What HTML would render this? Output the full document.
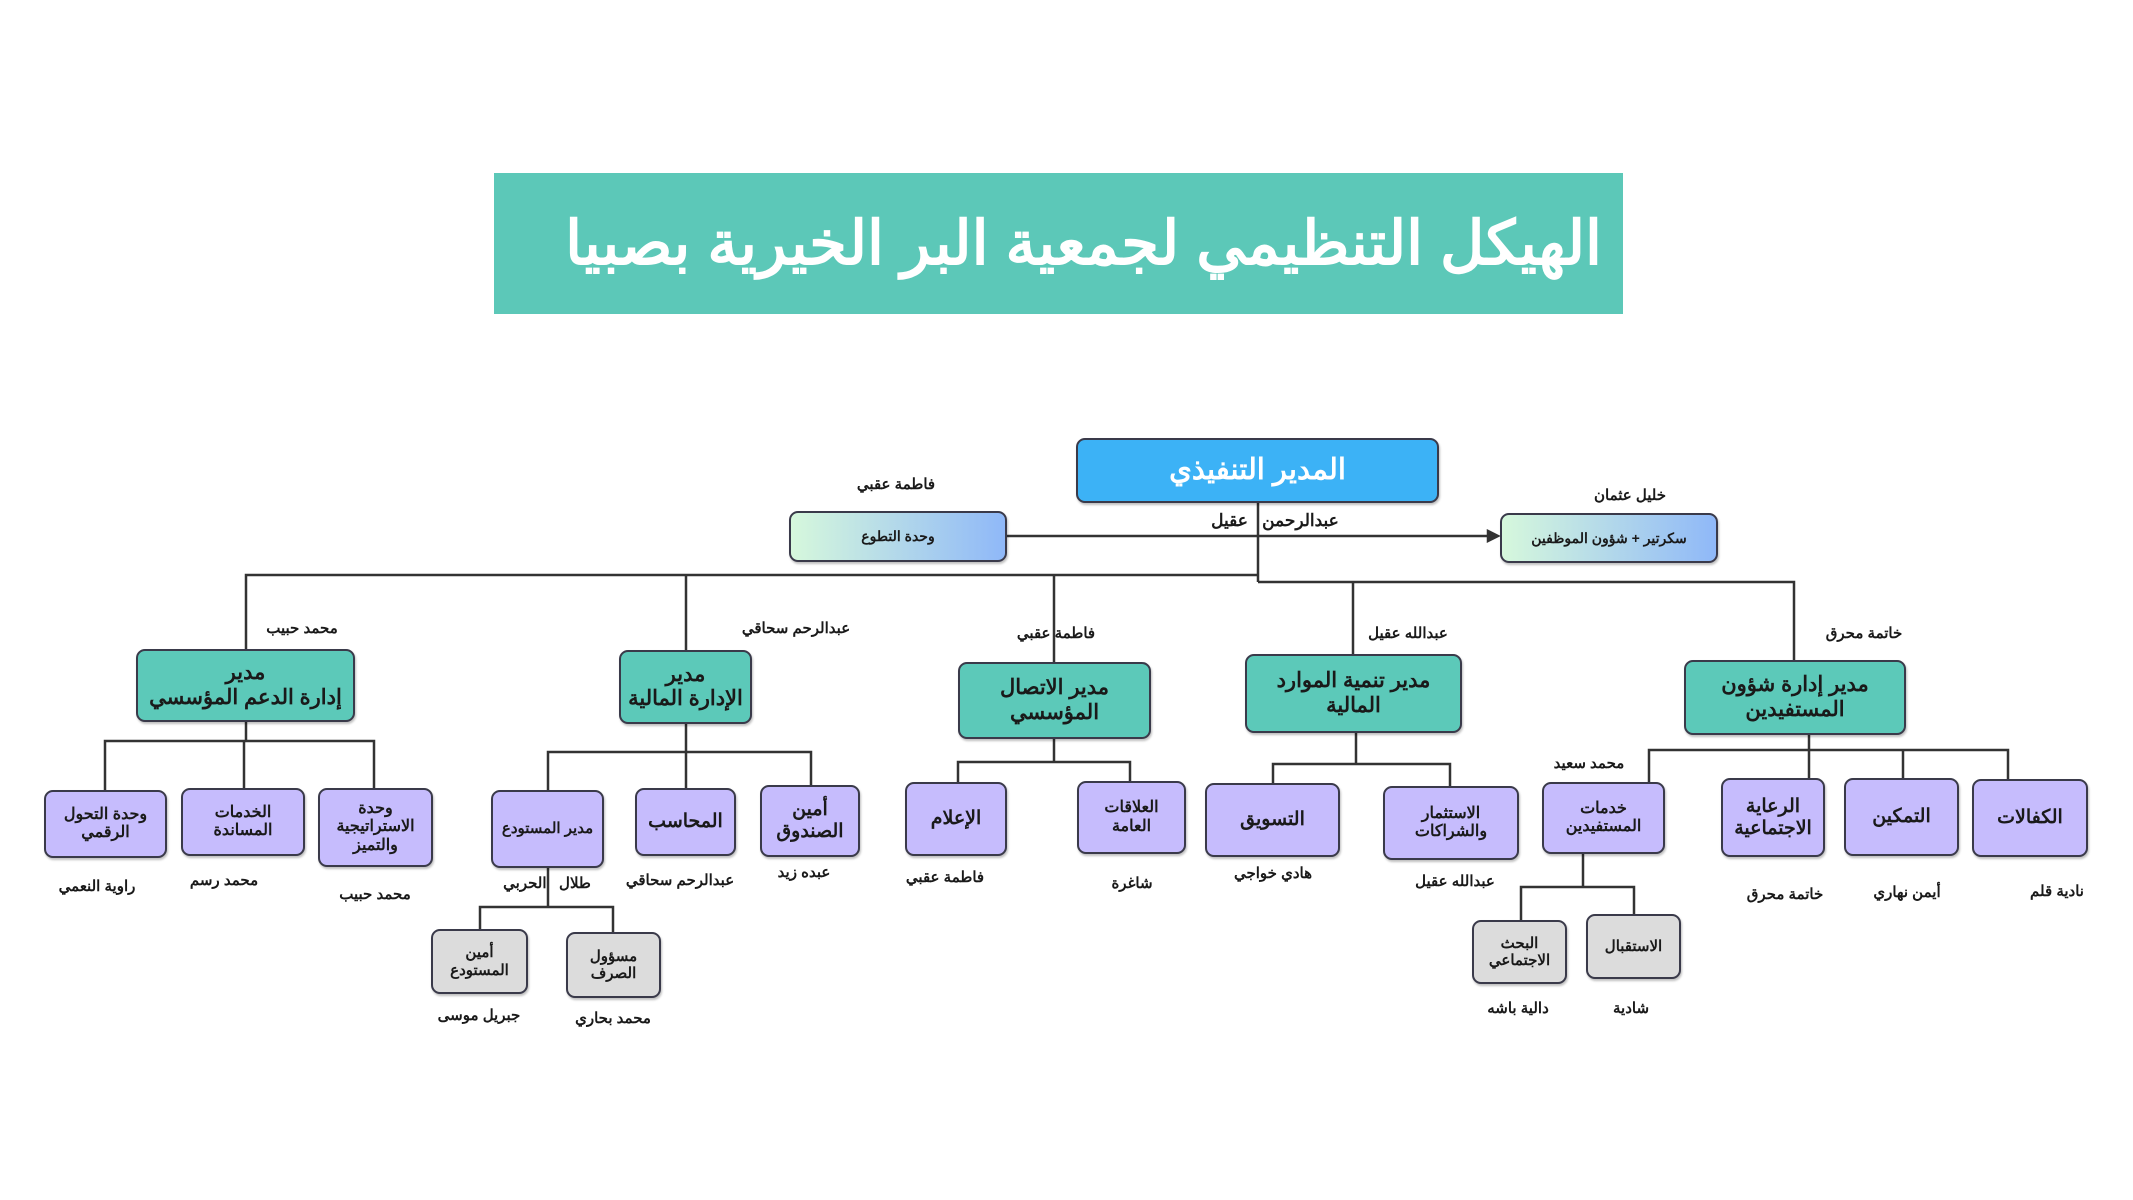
<!DOCTYPE html>
<html lang="ar"><head><meta charset="utf-8">
<style>
html,body{margin:0;padding:0;background:#fff;}
body{width:2133px;height:1200px;position:relative;overflow:hidden;font-family:"Liberation Sans","Noto Sans CJK SC",sans-serif;}
.b{position:absolute;box-sizing:border-box;display:flex;align-items:center;justify-content:center;text-align:center;border:2.5px solid #3a3a4a;border-radius:9px;font-weight:bold;color:#1a1a1a;direction:rtl;line-height:1.15;box-shadow:1px 2px 2px rgba(0,0,0,.25);}
.t{background:#5cc9b9;font-size:21px;}
.p{background:#c6bcfd;font-size:16px;}
.p.big{font-size:19px;}
.g{background:#dcdcdc;font-size:15px;}
.l{position:absolute;font-size:15px;font-weight:bold;color:#1a1a1a;direction:rtl;white-space:nowrap;transform:translate(-50%,-50%);}
svg{position:absolute;left:0;top:0;}
</style></head><body>
<div style="position:absolute;left:494px;top:173px;width:1129px;height:141px;background:#5cc8b8;"></div>
<div style="position:absolute;left:520px;top:173px;width:1082px;height:141px;display:flex;align-items:center;justify-content:flex-start;color:#fff;font-weight:bold;font-size:61px;direction:rtl;">الهيكل التنظيمي لجمعية البر الخيرية بصبيا</div>

<svg width="2133" height="1200" fill="none" stroke="#333" stroke-width="2.5">
<path d="M1258 503V582"/>
<path d="M1007 536H1496"/><path d="M1488 531L1498 536L1488 541Z" fill="#333"/>
<path d="M246 649V575H1258"/>
<path d="M686 575V650"/><path d="M1054 575V662"/>
<path d="M1258 582H1794V660"/><path d="M1353 582V654"/>
<path d="M246 722V741"/><path d="M105 790V741H374V788"/><path d="M244 741V788"/>
<path d="M686 724V752"/><path d="M548 790V752H811V785"/><path d="M686 752V788"/>
<path d="M548 868V907"/><path d="M480 929V907H613V932"/>
<path d="M1054 739V762"/><path d="M958 782V762H1130V781"/>
<path d="M1356 733V764"/><path d="M1273 783V764H1450V786"/>
<path d="M1809 735V750"/><path d="M1649 782V750H2008V779"/><path d="M1809 750V778"/><path d="M1903 750V778"/>
<path d="M1583 854V887"/><path d="M1521 920V887H1634V914"/>
</svg>

<div class="b" style="left:1076px;top:438px;width:363px;height:65px;background:#3cb2f6;color:#fff;font-size:29px;">المدير التنفيذي</div>
<div class="l" style="left:1275px;top:521px;font-size:17px;">عبدالرحمن&nbsp;&nbsp;&nbsp;عقيل</div>
<div class="b" style="left:789px;top:511px;width:218px;height:51px;background:linear-gradient(90deg,#d6f8dc,#8fb8f8);font-size:14px;">وحدة التطوع</div>
<div class="l" style="left:896px;top:484px;">فاطمة عقبي</div>
<div class="b" style="left:1500px;top:513px;width:218px;height:50px;background:linear-gradient(90deg,#d6f8dc,#8fb8f8);font-size:14px;">سكرتير + شؤون الموظفين</div>
<div class="l" style="left:1630px;top:495px;">خليل عثمان</div>

<div class="b t" style="left:136px;top:649px;width:219px;height:73px;">مدير<br>إدارة الدعم المؤسسي</div>
<div class="l" style="left:302px;top:628px;">محمد حبيب</div>
<div class="b t" style="left:619px;top:650px;width:133px;height:74px;">مدير<br>الإدارة المالية</div>
<div class="l" style="left:796px;top:628px;">عبدالرحم سحاقي</div>
<div class="b t" style="left:958px;top:662px;width:193px;height:77px;">مدير الاتصال<br>المؤسسي</div>
<div class="l" style="left:1056px;top:633px;">فاطمة عقبي</div>
<div class="b t" style="left:1245px;top:654px;width:217px;height:79px;">مدير تنمية الموارد<br>المالية</div>
<div class="l" style="left:1408px;top:633px;">عبدالله عقيل</div>
<div class="b t" style="left:1684px;top:660px;width:222px;height:75px;">مدير إدارة شؤون<br>المستفيدين</div>
<div class="l" style="left:1864px;top:633px;">خاتمة محرق</div>

<div class="b p" style="left:44px;top:790px;width:123px;height:68px;">وحدة التحول<br>الرقمي</div>
<div class="l" style="left:97px;top:886px;">راوية النعمي</div>
<div class="b p" style="left:181px;top:788px;width:124px;height:68px;">الخدمات<br>المساندة</div>
<div class="l" style="left:224px;top:880px;">محمد رسم</div>
<div class="b p" style="left:318px;top:788px;width:115px;height:79px;">وحدة<br>الاستراتيجية<br>والتميز</div>
<div class="l" style="left:375px;top:894px;">محمد حبيب</div>

<div class="b p" style="left:491px;top:790px;width:113px;height:78px;font-size:15px;">مدير المستودع</div>
<div class="l" style="left:547px;top:883px;">طلال&nbsp;&nbsp;&nbsp;الحربي</div>
<div class="b p big" style="left:635px;top:788px;width:101px;height:68px;">المحاسب</div>
<div class="l" style="left:680px;top:880px;">عبدالرحم سحاقي</div>
<div class="b p big" style="left:760px;top:785px;width:100px;height:72px;">أمين<br>الصندوق</div>
<div class="l" style="left:804px;top:872px;">عبده زيد</div>
<div class="b g" style="left:431px;top:929px;width:97px;height:65px;">أمين<br>المستودع</div>
<div class="l" style="left:479px;top:1015px;">جبريل موسى</div>
<div class="b g" style="left:566px;top:932px;width:95px;height:66px;">مسؤول<br>الصرف</div>
<div class="l" style="left:613px;top:1018px;">محمد بحاري</div>

<div class="b p big" style="left:905px;top:782px;width:102px;height:74px;">الإعلام</div>
<div class="l" style="left:945px;top:877px;">فاطمة عقبي</div>
<div class="b p" style="left:1077px;top:781px;width:109px;height:73px;">العلاقات<br>العامة</div>
<div class="l" style="left:1132px;top:883px;">شاغرة</div>

<div class="b p big" style="left:1205px;top:783px;width:135px;height:74px;">التسويق</div>
<div class="l" style="left:1273px;top:873px;">هادي خواجي</div>
<div class="b p" style="left:1383px;top:786px;width:136px;height:74px;">الاستثمار<br>والشراكات</div>
<div class="l" style="left:1455px;top:881px;">عبدالله عقيل</div>

<div class="b p" style="left:1542px;top:782px;width:123px;height:72px;">خدمات<br>المستفيدين</div>
<div class="l" style="left:1589px;top:763px;">محمد سعيد</div>
<div class="b p big" style="left:1721px;top:778px;width:104px;height:79px;">الرعاية<br>الاجتماعية</div>
<div class="l" style="left:1785px;top:894px;">خاتمة محرق</div>
<div class="b p big" style="left:1844px;top:778px;width:115px;height:78px;">التمكين</div>
<div class="l" style="left:1907px;top:892px;">أيمن نهاري</div>
<div class="b p big" style="left:1972px;top:779px;width:116px;height:78px;">الكفالات</div>
<div class="l" style="left:2057px;top:891px;">نادية قلم</div>
<div class="b g" style="left:1472px;top:920px;width:95px;height:64px;">البحث<br>الاجتماعي</div>
<div class="l" style="left:1518px;top:1008px;">دالية باشه</div>
<div class="b g" style="left:1586px;top:914px;width:95px;height:65px;">الاستقبال</div>
<div class="l" style="left:1631px;top:1008px;">شادية</div>
</body></html>
